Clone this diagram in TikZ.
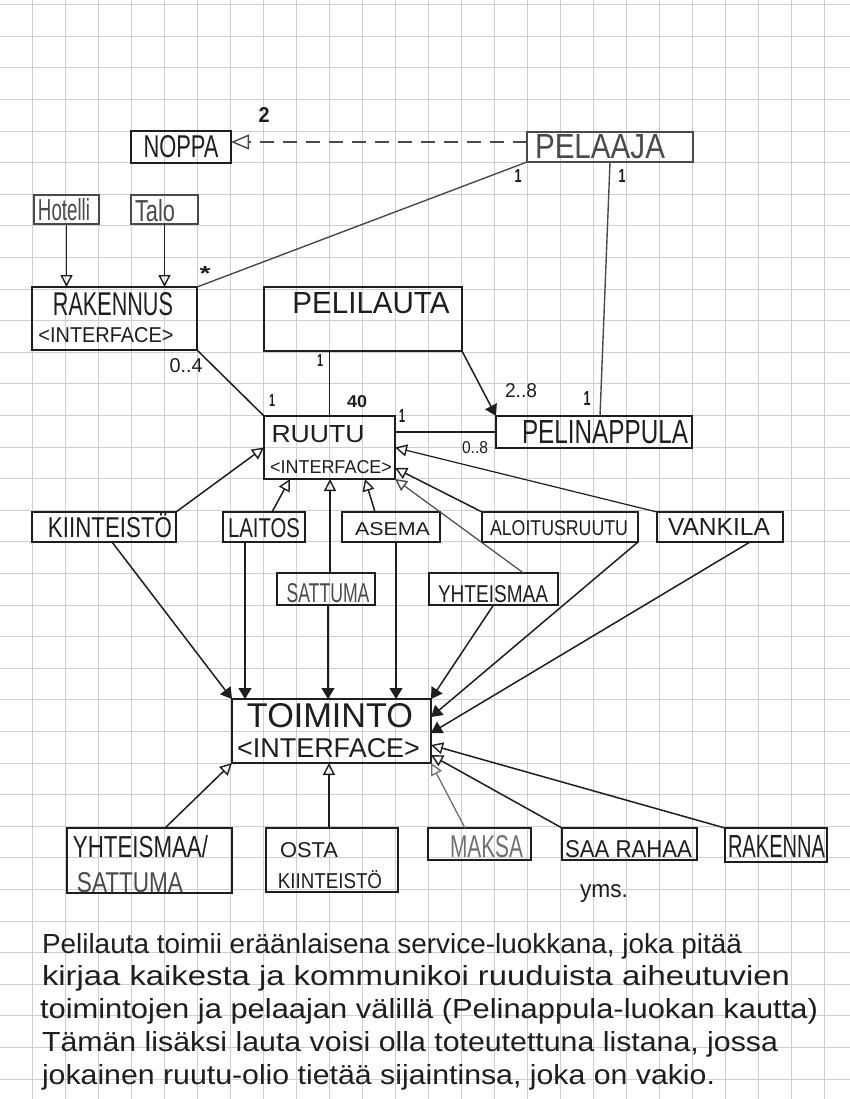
\documentclass[tikz,border=0pt]{standalone}
\usepackage{fontspec}
\setmainfont{Liberation Sans}
\usepackage{graphicx}
\usetikzlibrary{arrows.meta}
\definecolor{ink}{HTML}{1E1E1E}
\definecolor{pencil}{HTML}{4A4A4A}
\definecolor{faint}{HTML}{707070}
\definecolor{gridc}{HTML}{CFCFCF}
\newcommand{\hw}[3]{\resizebox{#1pt}{#2pt}{#3}}
\begin{document}
\begin{tikzpicture}[x=1pt,y=-1pt,
  box/.style={draw=ink, line width=1.8pt, inner sep=0pt, outer sep=0pt},
  thinbox/.style={box, draw=pencil, line width=1.2pt},
  lbl/.style={inner sep=0pt, outer sep=0pt, anchor=base, text=ink},
  conn/.style={draw=ink, line width=1.5pt},
  inh/.style={conn, -{Triangle[open, length=12pt, width=12pt, line width=1.4pt]}},
  usearrow/.style={conn, -{Triangle[length=11pt, width=13pt]}},
  gridline/.style={draw=gridc, line width=0.7pt}
]
\useasboundingbox (0,0) rectangle (850,1099);
\fill[white] (0,0) rectangle (850,1099);
\foreach \i in {0,...,26} {\draw[gridline] ({-1+33*\i},0) -- ({-1+33*\i},1099);}
\foreach \j in {0,...,34} {\draw[gridline] (0,{4.6+31.6*\j}) -- (850,{4.6+31.6*\j});}

% boxes
\node[box, minimum width=100pt, minimum height=32pt] (noppa) at (181,147) {};
\node[thinbox, minimum width=166pt, minimum height=30pt] (pelaaja) at (610,147) {};
\node[thinbox, minimum width=65pt, minimum height=29pt] (hotelli) at (66.5,209.5) {};
\node[thinbox, minimum width=67pt, minimum height=29pt] (talo) at (164.5,209.5) {};
\node[box, minimum width=165pt, minimum height=63pt] (rakennus) at (114.5,318.5) {};
\node[box, minimum width=198pt, minimum height=64pt] (pelilauta) at (363,319) {};
\node[box, minimum width=131pt, minimum height=63pt] (ruutu) at (329.5,447.5) {};
\node[box, minimum width=196pt, minimum height=32pt] (pelinappula) at (594,432) {};
\node[box, minimum width=144pt, minimum height=30pt] (kiinteisto) at (104,527) {};
\node[box, minimum width=82pt, minimum height=30pt] (laitos) at (264,527) {};
\node[box, minimum width=98pt, minimum height=30pt] (asema) at (391,527) {};
\node[box, minimum width=156pt, minimum height=30pt] (aloitus) at (560,527) {};
\node[box, minimum width=126pt, minimum height=30pt] (vankila) at (720,527) {};
\node[box, minimum width=98pt, minimum height=32pt] (sattuma) at (326,589) {};
\node[box, minimum width=129pt, minimum height=32pt] (yhteismaa) at (493.5,589) {};
\node[box, minimum width=199pt, minimum height=64pt] (toiminto) at (331.5,731) {};
\node[box, minimum width=165pt, minimum height=65pt] (ys) at (149.5,860.5) {};
\node[box, minimum width=132pt, minimum height=64pt] (osta) at (332,860) {};
\node[box, minimum width=103pt, minimum height=32pt] (maksa) at (479.5,844) {};
\node[box, minimum width=135pt, minimum height=32pt] (saarahaa) at (629.5,844) {};
\node[box, minimum width=102pt, minimum height=34pt] (rakenna) at (776,845) {};

% box texts
\node[lbl] (tnoppa) at (181,158) {\hw{75}{22}{NOPPA}};
\node[lbl, text=pencil] (tpelaaja) at (600,159) {\hw{130}{24}{PELAAJA}};
\node[lbl, text=pencil] (thotelli) at (64,221) {\hw{52}{22}{Hotelli}};
\node[lbl, text=pencil] (ttalo) at (155,222) {\hw{40}{22}{Talo}};
\node[lbl] (trak) at (113,315) {\hw{120}{23}{RAKENNUS}};
\node[lbl] (trakif) at (106,342) {\hw{135}{15}{<INTERFACE>}};
\node[lbl] (tpelilauta) at (371,313) {\hw{157}{21}{PELILAUTA}};
\node[lbl] (truutu) at (318,442) {\hw{93}{17}{RUUTU}};
\node[lbl] (truutuif) at (331,473) {\hw{122}{13}{<INTERFACE>}};
\node[lbl] (tpelinappula) at (605,443) {\hw{166}{23}{PELINAPPULA}};
\node[lbl] (tkiint) at (110,537) {\hw{124}{24}{KIINTEISTÖ}};
\node[lbl] (tlaitos) at (264,537) {\hw{72}{19}{LAITOS}};
\node[lbl] (tasema) at (392.5,535) {\hw{75}{13}{ASEMA}};
\node[lbl] (taloitus) at (559,535) {\hw{138}{15}{ALOITUSRUUTU}};
\node[lbl] (tvankila) at (719,535) {\hw{102}{17}{VANKILA}};
\node[lbl, text=pencil] (tsattuma) at (328,602) {\hw{83}{19}{SATTUMA}};
\node[lbl] (tyhteismaa) at (493,602) {\hw{110}{17}{YHTEISMAA}};
\node[lbl] (ttoiminto) at (330,727) {\hw{166}{24}{TOIMINTO}};
\node[lbl] (ttoimif) at (328.5,757) {\hw{183}{19}{<INTERFACE>}};
\node[lbl] (tys1) at (140.5,857) {\hw{135}{22}{YHTEISMAA/}};
\node[lbl, text=pencil] (tys2) at (130,892) {\hw{106}{20}{SATTUMA}};
\node[lbl] (tosta1) at (309,857) {\hw{58}{15}{OSTA}};
\node[lbl] (tosta2) at (330,888) {\hw{104}{18}{KIINTEISTÖ}};
\node[lbl, text=faint] (tmaksa) at (486.5,857) {\hw{73}{22}{MAKSA}};
\node[lbl] (tsaarahaa) at (628.5,857) {\hw{127}{17}{SAA RAHAA}};
\node[lbl] (trakenna) at (776.5,857) {\hw{97}{22}{RAKENNA}};
\node[lbl] (tyms) at (604,897) {\hw{48}{13}{yms.}};

% multiplicities
\node[lbl] (m2) at (264,123) {\hw{11}{15}{\bfseries 2}};
\node[lbl] (m1a) at (518,183) {\hw{7}{13}{\bfseries 1}};
\node[lbl] (m1b) at (622,183) {\hw{7}{13}{\bfseries 1}};
\node[lbl] (mstar) at (205,280) {\hw{11}{14}{\bfseries *}};
\node[lbl] (m04) at (186,372) {\hw{33}{14}{0..4}};
\node[lbl] (m1c) at (320,366) {\hw{6}{12}{\bfseries 1}};
\node[lbl] (m1d) at (272,406) {\hw{6}{12}{\bfseries 1}};
\node[lbl] (m40) at (357,407) {\hw{20}{12}{\bfseries 40}};
\node[lbl] (m28) at (521,397) {\hw{32}{14}{2..8}};
\node[lbl] (m1e) at (587,405) {\hw{7}{14}{\bfseries 1}};
\node[lbl] (m1f) at (402,422) {\hw{6}{13}{\bfseries 1}};
\node[lbl] (m08) at (475,453) {\hw{26}{12}{0..8}};

% top connectors
\draw[conn, draw=pencil, line width=1.6pt, dash pattern=on 14pt off 9pt,
  -{Triangle[open, length=18pt, width=15pt, line width=1.4pt]}]
  ([yshift=5pt]pelaaja.west) -- ([yshift=5pt]noppa.east);
\draw[conn, draw=pencil, line width=1.4pt] (pelaaja.south west) -- (rakennus.north east);
\draw[conn, draw=pencil, line width=1.4pt] (pelaaja.south) -- ([xshift=6pt]pelinappula.north);
\draw[inh] (hotelli.south) -- (hotelli.south |- rakennus.north);
\draw[inh] (talo.south) -- (talo.south |- rakennus.north);
\draw[conn] (rakennus.south east) -- (ruutu.north west);
\draw[conn] (ruutu.north |- pelilauta.south) -- (ruutu.north);
\draw[usearrow] (pelilauta.south east) -- (pelinappula.north west);
\draw[conn] (ruutu.east |- pelinappula.west) -- (pelinappula.west);

% inheritance to RUUTU
\draw[inh] (kiinteisto.north east) -- (ruutu.west);
\draw[inh] ([xshift=8pt]laitos.north) -- ([xshift=-39.5pt]ruutu.south);
\draw[inh] ([xshift=4pt]sattuma.north) -- ([xshift=0.5pt]ruutu.south);
\draw[inh] ([xshift=-16pt]asema.north) -- ([xshift=35.5pt]ruutu.south);
\draw[inh, draw=pencil, line width=1.2pt] ([xshift=30pt]yhteismaa.north) -- (ruutu.south east);
\draw[inh] (aloitus.north west) -- ([yshift=-20.5pt]ruutu.east);
\draw[inh, line width=1.2pt] (vankila.north west) -- (ruutu.east);

% uses of TOIMINTO
\draw[usearrow] ([xshift=8pt]kiinteisto.south) -- (toiminto.north west);
\draw[usearrow] ([xshift=-19pt]laitos.south) -- ([xshift=-19pt]laitos.south |- toiminto.north);
\draw[usearrow] ([xshift=2pt]sattuma.south) -- ([xshift=2pt]sattuma.south |- toiminto.north);
\draw[usearrow] ([xshift=5pt]asema.south) -- ([xshift=5pt]asema.south |- toiminto.north);
\draw[usearrow] (yhteismaa.south) -- (toiminto.north east);
\draw[usearrow] (aloitus.south east) -- ([yshift=14pt]toiminto.east);
\draw[usearrow] ([xshift=30pt]vankila.south) -- ([yshift=-2pt]toiminto.east);

% inheritance to TOIMINTO
\draw[inh] ([xshift=15.5pt]ys.north) -- (toiminto.south west);
\draw[inh] ([xshift=-3pt]osta.north) -- ([xshift=-3pt]osta.north |- toiminto.south);
\draw[inh, draw=faint, line width=1.3pt] ([xshift=-14.5pt]maksa.north) -- (toiminto.south east);
\draw[inh] (saarahaa.north west) -- ([yshift=-24pt]toiminto.east);
\draw[inh] (rakenna.north west) -- ([yshift=-14pt]toiminto.east);

% handwritten note
\node[lbl, anchor=base west] (p1) at (42,953) {\hw{700}{20}{Pelilauta toimii eräänlaisena service-luokkana, joka pitää}};
\node[lbl, anchor=base west] (p2) at (42,985) {\hw{748}{20}{kirjaa kaikesta ja kommunikoi ruuduista aiheutuvien}};
\node[lbl, anchor=base west] (p3) at (40,1018) {\hw{778}{20}{toimintojen ja pelaajan välillä (Pelinappula-luokan kautta)}};
\node[lbl, anchor=base west] (p4) at (42,1051) {\hw{736}{20}{Tämän lisäksi lauta voisi olla toteutettuna listana, jossa}};
\node[lbl, anchor=base west] (p5) at (42,1084) {\hw{673}{20}{jokainen ruutu-olio tietää sijaintinsa, joka on vakio.}};
\end{tikzpicture}
\end{document}
